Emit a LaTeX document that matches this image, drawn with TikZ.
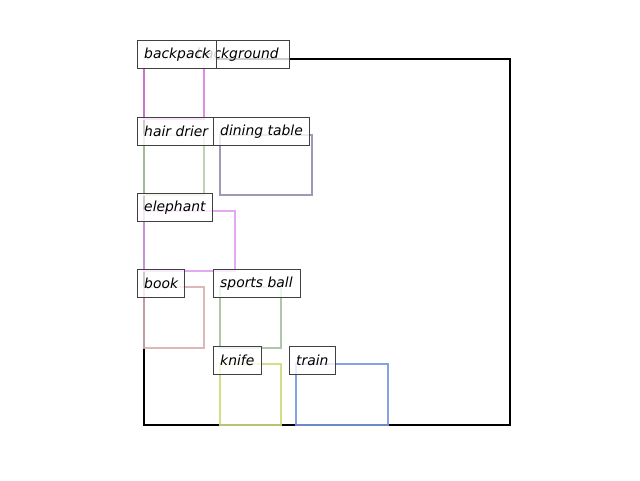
\documentclass[tikz,border=0pt]{standalone}
\usepackage{fontspec}
\setmainfont{DejaVu Sans}
\definecolor{cbackpack}{HTML}{E080E0}
\definecolor{chair}{HTML}{B8D0A8}
\definecolor{cdining}{HTML}{9090B0}
\definecolor{celeph}{HTML}{E0A0F0}
\definecolor{cbook}{HTML}{D8B0B0}
\definecolor{csports}{HTML}{A8C0A0}
\definecolor{cknife}{HTML}{D0D880}
\definecolor{ctrain}{HTML}{7898E0}
\definecolor{cedge}{HTML}{404040}
\tikzset{
  bbox/.style={line width=2.4pt, draw opacity=0.9},
  lbl/.style={draw=cedge, line width=0.9pt, fill=white, fill opacity=0.8, text opacity=1,
    anchor=north west, inner sep=0pt, minimum height=28pt},
  lbltext/.style={font=\fontsize{13.9}{16}\selectfont\itshape, inner sep=0pt, anchor=west, text opacity=1},
}
\begin{document}
\begin{tikzpicture}[x=1pt,y=-1pt]
\useasboundingbox (0,0) rectangle (640,480);
% background frame
\draw[line width=2.4pt, black] (144,59) rectangle (510,425);
% boxes
\draw[bbox, cbackpack] (144,59) rectangle (204,119);
\draw[bbox, chair] (144,135) rectangle (204,195);
\draw[bbox, cdining] (220,135) rectangle (312,195);
\draw[bbox, celeph] (144,211) rectangle (235,271);
\draw[bbox, cbook] (144,287) rectangle (204,348);
\draw[bbox, csports] (220,287) rectangle (281,348);
\draw[bbox, cknife] (220,364) rectangle (281,425);
\draw[bbox, ctrain] (296,364) rectangle (388,425);
% labels
\node[lbl, minimum width=152pt, label={[lbltext, xshift=59pt]west:background}] (lbg) at (137,40) {};
\node[lbl, minimum width=79pt, label={[lbltext, xshift=7pt]west:backpack}] (lbp) at (137,40) {};
\node[lbl, minimum width=76pt, label={[lbltext, xshift=7pt]west:hair drier}] (lhd) at (137,117) {};
\node[lbl, minimum width=96pt, label={[lbltext, xshift=7pt]west:dining table}] (ldt) at (213,117) {};
\node[lbl, minimum width=75pt, label={[lbltext, xshift=7pt]west:elephant}] (lel) at (137,193) {};
\node[lbl, minimum width=47pt, label={[lbltext, xshift=7pt]west:book}] (lbk) at (137,269) {};
\node[lbl, minimum width=87pt, label={[lbltext, xshift=7pt]west:sports ball}] (lsb) at (213,269) {};
\node[lbl, minimum width=48pt, label={[lbltext, xshift=7pt]west:knife}] (lkn) at (213,346) {};
\node[lbl, minimum width=46pt, label={[lbltext, xshift=7pt]west:train}] (ltr) at (289,346) {};
\end{tikzpicture}
\end{document}
